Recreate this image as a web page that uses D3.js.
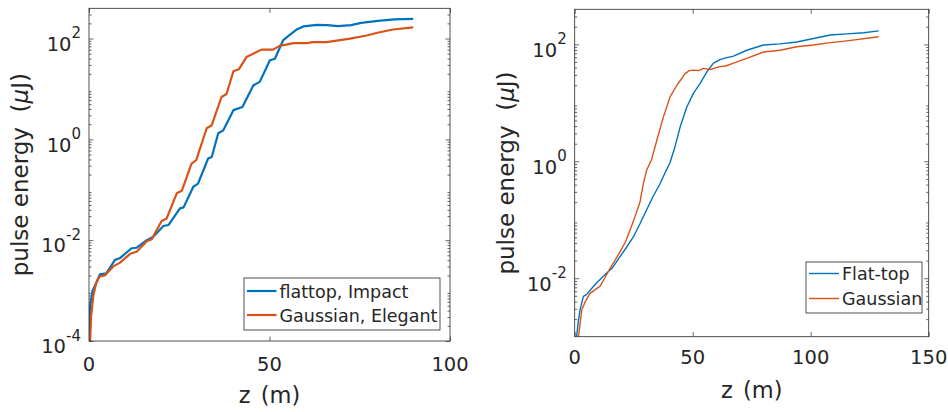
<!DOCTYPE html>
<html><head><meta charset="utf-8">
<script src="https://cdn.jsdelivr.net/npm/d3@7"></script>
<style>
body{margin:0;background:#fff;}
svg{display:block;}
text{font-family:"DejaVu Sans",Verdana,sans-serif;fill:#262626;}
</style></head><body>
<svg id="chart" width="948" height="412"></svg>
<script>
// ---------- data (z in m, pulse energy in uJ) ----------
const leftZFlattop = [0,0.3,1.0,1.7,3.0,4.8,7.2,8.5,11.8,13.2,16,17.8,20.6,22,25.2,26.2,28.9,30.2,33,34,35.8,37.2,40,42.5,45.5,47.3,50.1,51.5,53.8,55.7,57.5,59.4,63.1,66,69,72.6,75.4,80,84.6,89.8];
const leftEFlattop = [1.0e-4,5.0e-4,1.0e-3,1.26e-3,2.09e-3,2.19e-3,4.07e-3,4.37e-3,6.92e-3,7.08e-3,1.0e-2,1.17e-2,1.91e-2,2.0e-2,4.27e-2,4.47e-2,0.115,0.132,0.417,0.447,1.32,1.51,3.80,4.37,11.7,13.8,37.2,39.8,93.3,120,151,174,186,184,176,184,204,224,240,245];
const leftZGaussian = [0.3,0.6,1.2,2.0,3.0,4.4,6.7,8.5,11.4,13.2,16,17.4,20.1,21.5,24.3,25.7,28.4,29.7,32.6,34,36.7,38.1,40.0,41.5,43.7,45.5,47.8,51,52.9,54.7,56.6,60.3,62.1,65.8,68.6,72.3,76.9,79.6,84.2,89.8];
const leftEGaussian = [1.0e-4,3.16e-4,7.94e-4,1.45e-3,1.91e-3,2.0e-3,3.02e-3,3.55e-3,5.37e-3,5.89e-3,9.55e-3,1.05e-2,2.40e-2,2.69e-2,8.51e-2,9.55e-2,0.331,0.389,1.66,1.91,6.92,7.94,22.4,24.5,43.7,50.1,60.3,60.3,72.4,75.9,81.3,81.3,85.1,85.1,91.2,100,115,129,151,166];

const rightZFlattop = [0.8,1.5,2.25,3.7,5,7.9,10,13.6,16,19.2,22,24.9,27.5,30.5,33,36.2,38.5,40.4,42.5,44.7,47.5,50.3,53.1,56,58.8,61.6,64,67.3,72.9,80,87,94.1,101.2,108.3,115.4,122.5,128.8];
const rightEFlattop = [1.0e-3,1.78e-3,2.88e-3,4.90e-3,5.25e-3,7.24e-3,8.91e-3,1.23e-2,1.51e-2,2.34e-2,3.39e-2,5.13e-2,8.32e-2,0.148,0.240,0.417,0.661,0.955,1.78,3.89,8.51,14.5,21.4,33.9,47.9,55.0,58.9,63.1,79.4,97.7,102,110,126,145,151,158,170];
const rightZGaussian = [1.5,1.8,3.0,4.5,6.5,8.5,10.7,13,15,17,19.2,21.5,23.5,25.5,27.7,29,30.5,32.5,34.8,37.6,40.4,43.3,46.8,48.5,50.3,52.5,54.5,57.3,59,61.6,64,67.3,72.9,80,87,94.1,101.2,108.3,115.4,128.8];
const rightEGaussian = [1.0e-3,1.15e-3,2.88e-3,3.98e-3,5.50e-3,6.31e-3,7.24e-3,1.05e-2,1.48e-2,2.0e-2,2.82e-2,4.17e-2,6.76e-2,0.112,0.204,0.398,0.708,1.05,2.29,5.75,12.6,20.0,31.6,35.5,36.3,35.5,38.9,37.2,38.9,41.7,42.7,47.9,57.5,74.1,79.4,91.2,97.7,107,115,135];

const leftLegendLabels = ["flattop, Impact", "Gaussian, Elegant"];
const rightLegendLabels = ["Flat-top", "Gaussian"];
const leftXTicks = [0, 50, 100];
const rightXTicks = [0, 50, 100, 150];
const leftYTickExps = [-4, -2, 0, 2];
const rightYTickExps = [-2, 0, 2];
const xLabelText = "z (m)";
const seriesColors = ["#0072BD", "#D95319"];

// ---------- drawing ----------
const svg = d3.select("#chart");
const AX = "#262626";

function drawPanel(cfg, idx) {
  const x = d3.scaleLinear().domain(cfg.xDomain).range([cfg.x0, cfg.x1]);
  const y = d3.scaleLog().domain(cfg.yDomain).range([cfg.y1, cfg.y0]);
  const g = svg.append("g");
  const W = cfg.x1 - cfg.x0, H = cfg.y1 - cfg.y0;

  const cid = "clip" + idx;
  svg.append("clipPath").attr("id", cid).append("rect")
    .attr("x", cfg.x0).attr("y", cfg.y0).attr("width", W).attr("height", H);

  // minor log ticks
  const [lo, hi] = cfg.yDomain;
  const minor = [];
  for (let k = Math.floor(Math.log10(lo)); k <= Math.ceil(Math.log10(hi)); k++) {
    for (let m = 2; m <= 9; m++) { const v = m * Math.pow(10, k); if (v > lo && v < hi) minor.push(v); }
  }
  const majorY = cfg.yExps.map(e => Math.pow(10, e));

  const axL = g.append("g").attr("transform", `translate(${cfg.x0},0)`)
    .call(d3.axisLeft(y).tickValues(majorY).tickSize(-4.5).tickFormat(""));
  const axLm = g.append("g").attr("transform", `translate(${cfg.x0},0)`)
    .call(d3.axisLeft(y).tickValues(minor).tickSize(-2.5).tickFormat(""));
  const axR = g.append("g").attr("transform", `translate(${cfg.x1},0)`)
    .call(d3.axisRight(y).tickValues(majorY).tickSize(-4.5).tickFormat(""));
  const axRm = g.append("g").attr("transform", `translate(${cfg.x1},0)`)
    .call(d3.axisRight(y).tickValues(minor).tickSize(-2.5).tickFormat(""));
  const axB = g.append("g").attr("transform", `translate(0,${cfg.y1})`)
    .call(d3.axisBottom(x).tickValues(cfg.xTicks).tickSize(-4.5).tickFormat(""));
  const axT = g.append("g").attr("transform", `translate(0,${cfg.y0})`)
    .call(d3.axisTop(x).tickValues(cfg.xTicks).tickSize(-4.5).tickFormat(""));
  [axL, axLm, axR, axRm, axB, axT].forEach(a => {
    a.select(".domain").remove();
    a.selectAll("line").attr("stroke", AX).attr("stroke-width", 0.7);
  });

  // data lines
  const line = d3.line().x(d => x(d[0])).y(d => y(d[1]));
  cfg.series.forEach((s, i) => {
    g.append("path").datum(d3.zip(s.z, s.e))
      .attr("clip-path", `url(#${cid})`)
      .attr("d", line).attr("fill", "none")
      .attr("stroke", seriesColors[i]).attr("stroke-width", cfg.lw)
      .attr("stroke-linejoin", "round");
  });

  // box
  g.append("rect").attr("x", cfg.x0).attr("y", cfg.y0).attr("width", W).attr("height", H)
    .attr("fill", "none").attr("stroke", AX).attr("stroke-width", 0.8);

  // x tick labels
  g.selectAll(".xt").data(cfg.xTicks).join("text")
    .attr("x", d => x(d)).attr("y", cfg.y1 + cfg.xTickDy)
    .attr("text-anchor", "middle").attr("font-size", 19.5).text(d => d);

  // y tick labels 10^e
  cfg.yExps.forEach(e => {
    const ty = y(Math.pow(10, e));
    const t = g.append("text").attr("x", cfg.x0 - 8).attr("y", ty + 12.3)
      .attr("text-anchor", "end").attr("font-size", 19.5);
    t.append("tspan").text("10");
    t.append("tspan").attr("font-size", 15).attr("dy", -12.5).text(String(e));
  });

  // axis labels
  g.append("text").attr("x", (cfg.x0 + cfg.x1) / 2).attr("y", cfg.xLabelY)
    .attr("text-anchor", "middle").attr("font-size", 22.5)
    .style("word-spacing", "3px").text(xLabelText);
  const yl = g.append("text")
    .attr("transform", `translate(${cfg.yLabelX},${(cfg.y0 + cfg.y1) / 2}) rotate(-90)`)
    .attr("text-anchor", "middle").attr("font-size", 23).style("white-space", "pre");
  yl.append("tspan").text("pulse energy  (");
  yl.append("tspan").attr("font-style", "italic").text("μ");
  yl.append("tspan").text("J)");

  // legend
  const L = cfg.legend;
  g.append("rect").attr("x", L.x).attr("y", L.y).attr("width", L.w).attr("height", L.h)
    .attr("fill", "#fff").attr("stroke", AX).attr("stroke-width", 0.8);
  cfg.legendLabels.forEach((lab, i) => {
    const ly = L.y + L.row0 + i * L.rowGap;
    g.append("line").attr("x1", L.x + 3).attr("x2", L.x + 3 + L.lineLen)
      .attr("y1", ly).attr("y2", ly).attr("stroke", seriesColors[i]).attr("stroke-width", cfg.lw);
    g.append("text").attr("x", L.x + L.lineLen + 6).attr("y", ly + 6.5)
      .attr("font-size", 17.5).text(lab);
  });
}

drawPanel({
  x0: 89, x1: 450, y0: 8.3, y1: 341,
  xDomain: [0, 100], yDomain: [1e-4, Math.pow(10, 2.6)],
  xTicks: leftXTicks, yExps: leftYTickExps,
  series: [{z: leftZFlattop, e: leftEFlattop}, {z: leftZGaussian, e: leftEGaussian}],
  lw: 2.2, xTickDy: 29.7, xLabelY: 403, yLabelX: 28,
  legend: {x: 244, y: 278, w: 196, h: 52, row0: 13, rowGap: 24, lineLen: 29.5},
  legendLabels: leftLegendLabels
}, 0);

drawPanel({
  x0: 574.7, x1: 928.7, y0: 9.3, y1: 336.7,
  xDomain: [0, 150], yDomain: [1e-3, Math.pow(10, 2.6)],
  xTicks: rightXTicks, yExps: rightYTickExps,
  series: [{z: rightZFlattop, e: rightEFlattop}, {z: rightZGaussian, e: rightEGaussian}],
  lw: 1.4, xTickDy: 27.6, xLabelY: 398.3, yLabelX: 514,
  legend: {x: 806, y: 262, w: 116, h: 51, row0: 11.5, rowGap: 25, lineLen: 30},
  legendLabels: rightLegendLabels
}, 1);
</script>
</body></html>
